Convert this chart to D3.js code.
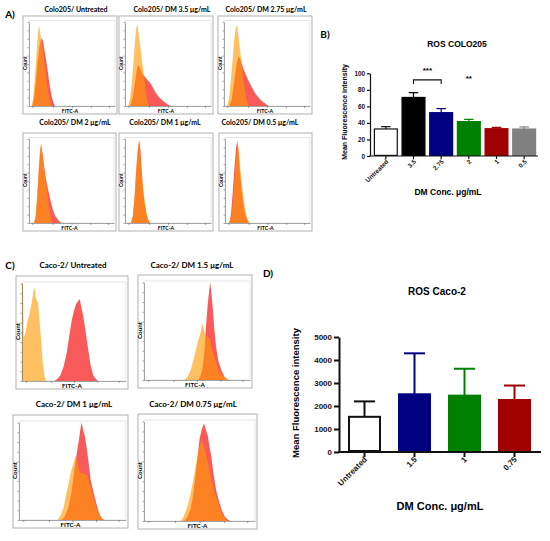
<!DOCTYPE html>
<html>
<head>
<meta charset="utf-8">
<script src="https://cdn.jsdelivr.net/npm/d3@7"></script>
<style>
  body { margin: 0; background: #fff; }
  svg { display: block; font-family: "Liberation Sans", Arial, sans-serif; }
  .lbl { font-family: Lato, "Open Sans", sans-serif; font-weight: bold; }
  .bold { font-weight: bold; }
</style>
</head>
<body>
<div id="fig"></div>
<script>
// ---- flow histograms: [FITC channel (0-100), count (% of max)] ----
const coloTitles = ['Colo205/ Untreated', 'Colo205/ DM 3.5 μg/mL', 'Colo205/ DM 2.75 μg/mL',
  'Colo205/ DM 2 μg/mL', 'Colo205/ DM 1 μg/mL', 'Colo205/ DM 0.5 μg/mL'];
const cacoTitles = ['Caco-2/ Untreated', 'Caco-2/ DM 1.5 μg/mL', 'Caco-2/ DM 1 μg/mL', 'Caco-2/ DM 0.75 μg/mL'];

const coloUntreatedRef = [[0,0],[3,0],[5,10],[7,35],[9,65],[10.5,88],[11.7,96],[13,86],[14.5,78],[16,68],[18,50],[20,34],[22,18],[24,7],[26,0],[100,0]];
const coloUntreatedSample = [[0,0],[4,0],[6,10],[8,30],[10,52],[12,70],[14,79],[15,81],[16.5,76],[18,66],[20,54],[22,40],[24,25],[26,13],[28,5],[30,0],[100,0]];
const colo35Ref = [[0,0],[4,0],[6,10],[8,28],[10,55],[12,82],[13.5,95],[14.5,97],[16,85],[18,69],[20,52],[22,37],[24,20],[26,7],[28,0],[100,0]];
const colo35Sample = [[0,0],[6,0],[9,10],[12,30],[14,45],[16,49],[18,44],[20,38],[23,35],[26,31],[29,28],[32,23],[35,17],[39,11],[43,7],[47,4],[51,1],[54,0],[100,0]];
const colo275Ref = [[0,0],[4,0],[6,10],[8,30],[10,55],[12,80],[14,94],[15,96],[16.5,86],[18,72],[20,55],[22,38],[24,22],[26,9],[28,2],[30,0],[100,0]];
const colo275Sample = [[0,0],[6,0],[9,8],[12,30],[15,52],[17,59],[19,56],[22,46],[25,38],[29,29],[33,21],[37,14],[41,9],[45,5],[49,2],[52,0],[100,0]];
const colo2Ref = [[0,0],[6,0],[8,10],[10,40],[12,75],[13.5,93],[14.5,95],[16,80],[18,62],[20,48],[22,32],[24,15],[26,5],[28,0],[100,0]];
const colo2Sample = [[0,0],[6,0],[8,8],[10,35],[12,70],[13.5,88],[14.5,92],[16,82],[18,66],[20,52],[22,42],[25,28],[28,16],[31,8],[35,3],[38,0],[100,0]];
const colo1Ref = [[0,0],[7,0],[9,8],[11,30],[13,65],[15,90],[16,97],[17.5,88],[19,65],[21,42],[23,25],[25,12],[27,5],[29,0],[100,0]];
const colo1Sample = [[0,0],[7,0],[9,7],[11,28],[13,62],[15,88],[16.5,99],[18,86],[19.5,62],[21,40],[23,22],[25,10],[27,4],[29,0],[100,0]];
const colo05Ref = [[0,0],[5,0],[8,10],[10,35],[12,65],[14,88],[15,96],[16.5,85],[18,65],[20,45],[22,28],[24,15],[26,6],[29,0],[100,0]];
const colo05Sample = [[0,0],[5,0],[7,10],[9,35],[11,65],[13,90],[14.5,98],[16,84],[17.5,62],[19.5,40],[21.5,24],[23.5,12],[26,4],[28,0],[100,0]];

const cacoUntreatedRef = [[0,100],[1,100],[1.5,45],[3,48],[5,60],[7,68],[9,78],[11,92],[12,96],[13.5,84],[15.5,80],[17,60],[18.5,40],[20,18],[21.5,6],[23,0],[100,0]];
const cacoUntreatedSample = [[0,0],[31,0],[34,2],[37,6],[40,15],[43,29],[46,50],[48,63],[50,72],[52,79],[54,82],[55.5,84],[57,76],[59,66],[61.5,48],[64,30],[66,16],[68.5,6],[71,2],[73,0],[100,0]];
const caco15Ref = [[0,0],[38,0],[41,3],[44,10],[47,22],[49,31],[51,40],[53,47],[55,58],[56.5,52],[58,46],[60,44],[62,43],[64,32],[66,25],[68,18],[70,11],[73,6],[76,3],[80,0],[100,0]];
const caco15Sample = [[0,0],[51,0],[53,3],[55,10],[57,29],[58.5,55],[60,76],[61.5,92],[62.5,100],[63.5,90],[65,72],[66.5,50],[68,34],[70,20],[73,10],[76,3],[79,0],[100,0]];
const caco1Ref = [[0,0],[36,0],[39,5],[42,14],[44,26],[46.5,38],[48,47],[50,55],[52,62],[53,66],[54.5,60],[56,52],[58,48],[60,48],[62,47],[64,46],[66,37],[68.5,28],[71,18],[73,11],[75.5,5],[78,1],[80,0],[100,0]];
const caco1Sample = [[0,0],[40,0],[43,4],[46,12],[49,28],[51,45],[53.5,65],[56,82],[57.5,94],[58.5,100],[60,92],[61.6,86],[63,76],[64,68],[65.5,55],[67,41],[69.5,29],[72,18],[74,10],[76,4],[78,1],[80,0],[100,0]];
const caco075Ref = [[0,0],[33,0],[35.5,4],[38,11],[40,18],[42,28],[44.5,42],[47,58],[48.5,67],[50,75],[52,82],[53.5,77],[55,71],[57,62],[59,51],[61,41],[63,31],[65,24],[67,18],[69,11],[71,6],[73.5,2],[76,0],[100,0]];
const caco075Sample = [[0,0],[36,0],[39,4],[42,12],[44,24],[46,42],[48,62],[50,82],[52,92],[54,98],[55.5,93],[57.6,85],[59,75],[60.6,65],[62.5,48],[65,31],[67.5,20],[70,11],[73,4],[76,1],[78,0],[100,0]];

// ---- mean fluorescence intensity ----
const coloDoses = ['Untreated', '3.5', '2.75', '2', '1', '0.5'];
const coloMFI = [32.7, 70.8, 52.4, 41.6, 33.0, 32.6];
const coloSD = [2.8, 5.8, 4.9, 2.7, 1.6, 2.5];
const coloColors = ['#ffffff', '#000000', '#000080', '#008000', '#a00000', '#808080'];
const coloTicks = [0, 20, 40, 60, 80, 100];
const coloSig = [['3.5', '2.75', '***'], ['2', '2', '**']];

const cacoDoses = ['Untreated', '1.5', '1', '0.75'];
const cacoMFI = [1530, 2510, 2450, 2260];
const cacoSD = [670, 1780, 1170, 630];
const cacoColors = ['#ffffff', '#000080', '#008000', '#a00000'];
const cacoTicks = [0, 1000, 2000, 3000, 4000, 5000];

const histTicks = [4, 28, 50, 72, 93];

const width = 550, height = 541;
const svg = d3.select('#fig').append('svg').attr('width', width).attr('height', height);

let clipId = 0;
function histPanel(b, title, ref, sample, big) {
  const g = svg.append('g');
  g.append('text').attr('class', 'lbl')
    .attr('x', b.tx).attr('y', b.ty)
    .attr('text-anchor', 'middle').attr('dominant-baseline', 'middle')
    .style('font-size', (big ? 8 : 7) + 'px').text(title);
  g.append('rect').attr('x', b.x).attr('y', b.y).attr('width', b.w).attr('height', b.h)
    .attr('fill', '#fff').attr('stroke', '#a8a8a8').attr('stroke-width', 0.9);
  const left = b.x + 6, right = b.x + b.w - 2, top = b.y + (big ? 6 : 4.5), bottom = b.y + b.h - 8;
  g.append('rect').attr('x', left).attr('y', top).attr('width', right - left).attr('height', bottom - top)
    .attr('fill', 'none').attr('stroke', '#cfcfcf').attr('stroke-width', 0.5);

  const x = d3.scaleLinear().domain([0, 100]).range([left, right]);
  const y = d3.scaleLinear().domain([0, 100]).range([bottom, top + 1.5]);
  const area = d3.area().x(d => x(d[0])).y0(y(0)).y1(d => y(d[1]));

  const id = 'clip' + (clipId++);
  g.append('clipPath').attr('id', id).append('rect')
    .attr('x', left).attr('y', top).attr('width', right - left).attr('height', bottom - top);
  const plot = g.append('g').attr('clip-path', 'url(#' + id + ')');
  plot.append('path').datum(sample).attr('d', area).attr('fill', '#f85a5a');
  plot.append('path').datum(ref).attr('d', area).attr('fill', '#ff9a00').attr('fill-opacity', 0.62);

  const ax = g.append('g').attr('transform', 'translate(0,' + bottom + ')')
    .call(d3.axisBottom(x).tickValues(histTicks).tickSize(2).tickSizeOuter(0).tickFormat(''));
  const ay = g.append('g').attr('transform', 'translate(' + left + ',0)')
    .call(d3.axisLeft(y).tickValues(d3.range(0, 101, 10)).tickSize(1.5).tickSizeOuter(0).tickFormat(''));
  [ax, ay].forEach(a => a.selectAll('path,line').attr('stroke', '#555').attr('stroke-width', 0.5));

  g.append('text').attr('class', 'lbl')
    .attr('transform', 'translate(' + (b.x + 2.6) + ',' + ((top + bottom) / 2) + ') rotate(-90)')
    .attr('text-anchor', 'middle').attr('dominant-baseline', 'middle')
    .style('font-size', (big ? 6.3 : 5) + 'px').text('Count');
  g.append('text').attr('class', 'lbl')
    .attr('x', b.x + b.w * 0.5).attr('y', b.y + b.h - 2.4)
    .attr('text-anchor', 'middle').attr('dominant-baseline', 'middle')
    .style('font-size', (big ? 6.3 : 5.2) + 'px').text('FITC-A');
}

// panel A boxes
const boxesA = [
  {x: 23, y: 16, w: 94, h: 98, tx: 76, ty: 10},
  {x: 119, y: 16, w: 94, h: 98, tx: 172, ty: 10},
  {x: 218, y: 16, w: 94, h: 98, tx: 266, ty: 10},
  {x: 23, y: 133, w: 93, h: 98, tx: 75, ty: 123.5},
  {x: 119, y: 133, w: 94, h: 98, tx: 165, ty: 123.5},
  {x: 219, y: 133, w: 93, h: 98, tx: 260, ty: 123.5}
];
const coloRefs = [coloUntreatedRef, colo35Ref, colo275Ref, colo2Ref, colo1Ref, colo05Ref];
const coloSamples = [coloUntreatedSample, colo35Sample, colo275Sample, colo2Sample, colo1Sample, colo05Sample];
boxesA.forEach((b, i) => histPanel(b, coloTitles[i], coloRefs[i], coloSamples[i], false));

// panel C boxes
const boxesC = [
  {x: 16, y: 276, w: 112, h: 113, tx: 73, ty: 266},
  {x: 138, y: 275, w: 114, h: 113, tx: 192, ty: 266},
  {x: 13, y: 415, w: 115, h: 113, tx: 74, ty: 405},
  {x: 138, y: 414, w: 119, h: 115, tx: 193, ty: 405}
];
const cacoRefs = [cacoUntreatedRef, caco15Ref, caco1Ref, caco075Ref];
const cacoSamples = [cacoUntreatedSample, caco15Sample, caco1Sample, caco075Sample];
boxesC.forEach((b, i) => histPanel(b, cacoTitles[i], cacoRefs[i], cacoSamples[i], true));

// panel letters
[['A)', 10, 15], ['B)', 325, 35], ['C)', 10, 266], ['D)', 268, 274]].forEach(p => {
  svg.append('text').attr('class', 'lbl').attr('x', p[1]).attr('y', p[2])
    .attr('text-anchor', 'middle').attr('dominant-baseline', 'middle')
    .style('font-size', '10px').text(p[0]);
});

function barPanel(c) {
  const g = svg.append('g');
  const ys = d3.scaleLinear().domain([0, c.ticks[c.ticks.length - 1]]).range([c.y0, c.y1]);
  const xs = d3.scaleBand().domain(c.cats).range(c.xr).paddingInner(c.pad).paddingOuter(c.pad / 2);

  g.selectAll('.err').data(c.cats).enter().append('g').each(function(d, i) {
    const cx = xs(d) + xs.bandwidth() / 2;
    const col = i === 0 ? '#111' : c.colors[i];
    const e = d3.select(this);
    e.append('line').attr('x1', cx).attr('x2', cx).attr('y1', ys(c.vals[i])).attr('y2', ys(c.vals[i] + c.sd[i]))
      .attr('stroke', col).attr('stroke-width', c.lw);
    e.append('line').attr('x1', cx - c.cap / 2).attr('x2', cx + c.cap / 2)
      .attr('y1', ys(c.vals[i] + c.sd[i])).attr('y2', ys(c.vals[i] + c.sd[i]))
      .attr('stroke', col).attr('stroke-width', c.lw);
  });
  g.selectAll('.bar').data(c.cats).enter().append('rect')
    .attr('x', d => xs(d) + c.lw / 2).attr('width', xs.bandwidth() - c.lw)
    .attr('y', (d, i) => ys(c.vals[i])).attr('height', (d, i) => ys(0) - ys(c.vals[i]) - c.lw / 2)
    .attr('fill', (d, i) => c.colors[i])
    .attr('stroke', (d, i) => i === 0 ? '#111' : c.colors[i]).attr('stroke-width', c.lw);

  const ay = g.append('g').attr('transform', 'translate(' + c.ax + ',0)')
    .call(d3.axisLeft(ys).tickValues(c.ticks).tickSize(c.tl).tickSizeOuter(0).tickPadding(2)
      .tickFormat(d3.format('d')));
  ay.selectAll('path,line').attr('stroke', '#111').attr('stroke-width', c.axw);
  ay.selectAll('text').attr('class', 'bold').style('font-size', c.tf + 'px').attr('fill', '#111');

  g.append('line').attr('x1', c.ax - c.axw / 2).attr('x2', c.xEnd).attr('y1', c.y0).attr('y2', c.y0)
    .attr('stroke', '#111').attr('stroke-width', c.axw);
  c.cats.forEach(d => {
    const cx = xs(d) + xs.bandwidth() / 2;
    g.append('line').attr('x1', cx).attr('x2', cx).attr('y1', c.y0).attr('y2', c.y0 + c.tl)
      .attr('stroke', '#111').attr('stroke-width', c.axw);
    g.append('text').attr('class', 'bold')
      .attr('transform', 'translate(' + (cx + c.ldx) + ',' + (c.y0 + c.ldy) + ') rotate(-45)')
      .attr('text-anchor', 'end').style('font-size', c.tf + 'px').attr('fill', '#111').text(d);
  });

  g.append('text').attr('class', 'bold').attr('x', c.title[1]).attr('y', c.title[2])
    .attr('text-anchor', 'middle').attr('dominant-baseline', 'middle')
    .style('font-size', c.title[3] + 'px').text(c.title[0]);
  g.append('text').attr('class', 'bold')
    .attr('transform', 'translate(' + c.ylab[1] + ',' + c.ylab[2] + ') rotate(-90)')
    .attr('text-anchor', 'middle').attr('dominant-baseline', 'middle')
    .style('font-size', c.ylab[3] + 'px').text(c.ylab[0]);
  g.append('text').attr('class', 'bold').attr('x', c.xlab[1]).attr('y', c.xlab[2])
    .attr('text-anchor', 'middle').attr('dominant-baseline', 'middle')
    .style('font-size', c.xlab[3] + 'px').text(c.xlab[0]);
  return {g, xs, ys};
}

const B = barPanel({
  cats: coloDoses, vals: coloMFI, sd: coloSD, colors: coloColors, ticks: coloTicks,
  y0: 156, y1: 73.3, xr: [372, 538], pad: 0.13, ax: 370, xEnd: 538,
  lw: 1.2, axw: 1.2, cap: 9.5, tl: 3, tf: 6.3, ldx: 3, ldy: 6,
  title: ['ROS COLO205', 457, 45, 8.5],
  ylab: ['Mean Fluorescence intensity', 345, 112, 7],
  xlab: ['DM Conc. μg/mL', 448, 193, 8.5]
});

// significance marks
const sigLevel = 92;
coloSig.forEach(s => {
  const x1 = B.xs(s[0]) + B.xs.bandwidth() / 2, x2 = B.xs(s[1]) + B.xs.bandwidth() / 2;
  if (s[0] !== s[1]) {
    B.g.append('path')
      .attr('d', 'M' + x1 + ',' + B.ys(sigLevel - 5) + 'V' + B.ys(sigLevel) + 'H' + x2 + 'V' + B.ys(sigLevel - 5))
      .attr('fill', 'none').attr('stroke', '#111').attr('stroke-width', 1.1);
  }
  B.g.append('text').attr('class', 'bold')
    .attr('x', (x1 + x2) / 2).attr('y', B.ys(s[0] !== s[1] ? sigLevel + 8.5 : sigLevel - 1.5))
    .attr('text-anchor', 'middle').style('font-size', '8px').text(s[2]);
});

barPanel({
  cats: cacoDoses, vals: cacoMFI, sd: cacoSD, colors: cacoColors, ticks: cacoTicks,
  y0: 452, y1: 337, xr: [339.5, 539.5], pad: 0.34, ax: 339, xEnd: 541,
  lw: 2, axw: 2, cap: 21, tl: 5, tf: 8, ldx: 3, ldy: 8,
  title: ['ROS Caco-2', 437, 292, 10],
  ylab: ['Mean Fluorescence intensity', 296, 393, 9.5],
  xlab: ['DM Conc. μg/mL', 440, 507, 11]
});
</script>
</body>
</html>
